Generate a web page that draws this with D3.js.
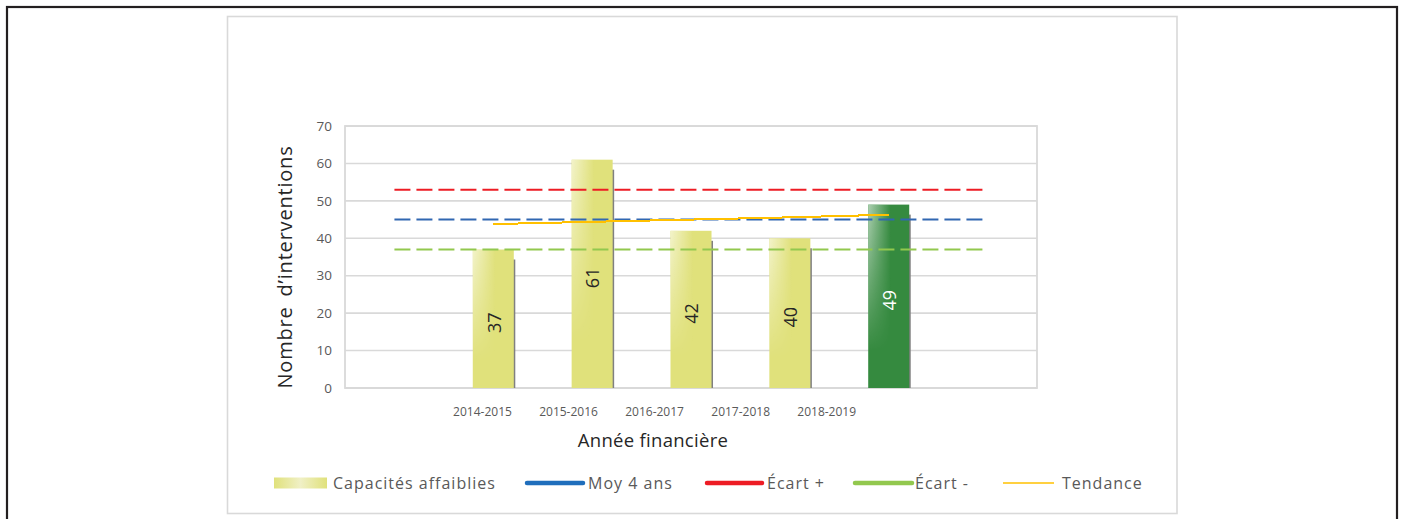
<!DOCTYPE html>
<html>
<head>
<meta charset="utf-8">
<script src="https://cdn.jsdelivr.net/npm/d3@7"></script>
<style>
  body { margin: 0; background: #fff; }
  text { font-family: "Open Sans", "Noto Sans", sans-serif; }
</style>
</head>
<body>
<script>
var width = 1402;
var height = 519;
var margin = {top: 126, left: 345, right: 365, bottom: 131};

// data
var years = ["2014-2015", "2015-2016", "2016-2017", "2017-2018", "2018-2019"];
var slots = [""].concat(years, [" "]);
var values = [37, 61, 42, 40, 49];
var trend = [43.8, 44.4, 45.0, 45.6, 46.3];
var refNames = ["Moy 4 ans", "Écart +", "Écart -"];
var refValues = [45, 53, 37];
var yTicks = [0, 10, 20, 30, 40, 50, 60, 70];
var legendLabels = ["Capacités affaiblies", "Moy 4 ans", "Écart +", "Écart -", "Tendance"];

var svg = d3.select("body")
  .append("svg")
  .attr("width", width)
  .attr("height", height);

var defs = svg.append("defs");

var vfade = defs.append("linearGradient").attr("id", "vfade")
  .attr("x1", 0).attr("y1", 0).attr("x2", 0).attr("y2", 1);
vfade.append("stop").attr("offset", "0%").attr("stop-color", "#fff");
vfade.append("stop").attr("offset", "80%").attr("stop-color", "#000");
defs.append("mask").attr("id", "fadeMask")
  .attr("maskContentUnits", "objectBoundingBox")
  .append("rect").attr("width", 1).attr("height", 1).attr("fill", "url(#vfade)");

var hlight = defs.append("linearGradient").attr("id", "hlight")
  .attr("x1", 0).attr("y1", 0).attr("x2", 1).attr("y2", 0);
hlight.append("stop").attr("offset", "0%").attr("stop-color", "#fff").attr("stop-opacity", 0.6);
hlight.append("stop").attr("offset", "55%").attr("stop-color", "#fff").attr("stop-opacity", 0);

var legGrad = defs.append("linearGradient").attr("id", "legGrad")
  .attr("x1", 0).attr("y1", 0).attr("x2", 1).attr("y2", 0);
legGrad.append("stop").attr("offset", "0%").attr("stop-color", "#E0E17B");
legGrad.append("stop").attr("offset", "50%").attr("stop-color", "#F0F0C6");
legGrad.append("stop").attr("offset", "100%").attr("stop-color", "#E0E17B");

// frames
svg.append("rect")
  .attr("x", 7).attr("y", 7).attr("width", 1390).attr("height", 530)
  .attr("fill", "none").attr("stroke", "#231F20").attr("stroke-width", 2.2);
svg.append("rect")
  .attr("x", 227.5).attr("y", 16.5).attr("width", 949.5).attr("height", 497)
  .attr("fill", "none").attr("stroke", "#D9D9D9").attr("stroke-width", 1.6);

var xScale = d3.scaleBand()
  .domain(slots)
  .range([margin.left, width - margin.right])
  .padding(0);

var xLabel = d3.scalePoint()
  .domain(years)
  .range([482.5, 826.7]);

var yScale = d3.scaleLinear()
  .domain([0, 70])
  .range([height - margin.bottom, margin.top]);

var barW = xScale.bandwidth() * 0.415;
function cx(d) { return xScale(d) + xScale.bandwidth() / 2; }

// gridlines
svg.append("g")
  .selectAll("line")
  .data(yTicks)
  .enter()
  .append("line")
    .attr("x1", margin.left).attr("x2", width - margin.right)
    .attr("y1", function(d) { return yScale(d); })
    .attr("y2", function(d) { return yScale(d); })
    .attr("stroke", "#D9D9D9").attr("stroke-width", 1.6);

svg.append("rect")
  .attr("x", margin.left).attr("y", yScale(70))
  .attr("width", width - margin.right - margin.left)
  .attr("height", yScale(0) - yScale(70))
  .attr("fill", "none").attr("stroke", "#D9D9D9").attr("stroke-width", 1.8);

// y tick labels
svg.append("g")
  .selectAll("text")
  .data(yTicks)
  .enter()
  .append("text")
    .attr("x", 332)
    .attr("y", function(d) { return yScale(d); })
    .attr("dy", "0.35em")
    .attr("text-anchor", "end")
    .attr("font-size", 13.5)
    .attr("fill", "#595959")
    .text(function(d) { return d; });

// bar shadows
svg.append("g")
  .selectAll("rect")
  .data(values)
  .enter()
  .append("rect")
    .attr("x", function(d, i) { return cx(years[i]) - barW / 2 + 1.5; })
    .attr("y", function(d) { return yScale(d) + 10; })
    .attr("width", barW)
    .attr("height", function(d) { return yScale(0) - yScale(d) - 10; })
    .attr("fill", "#808080");

// bars
var bars = svg.append("g")
  .selectAll("g")
  .data(values)
  .enter()
  .append("g");

bars.append("rect")
  .attr("x", function(d, i) { return cx(years[i]) - barW / 2; })
  .attr("y", function(d) { return yScale(d); })
  .attr("width", barW)
  .attr("height", function(d) { return yScale(0) - yScale(d); })
  .attr("fill", function(d, i) { return i === 4 ? "#358A3F" : "#E0E17B"; });

bars.append("rect")
  .attr("x", function(d, i) { return cx(years[i]) - barW / 2; })
  .attr("y", function(d) { return yScale(d); })
  .attr("width", barW)
  .attr("height", function(d) { return yScale(0) - yScale(d); })
  .attr("fill", "url(#hlight)")
  .attr("mask", "url(#fadeMask)");

bars.append("text")
  .attr("transform", function(d, i) {
    return "translate(" + (cx(years[i]) + 1) + "," + ((yScale(d) + yScale(0)) / 2 + 4) + ") rotate(-90)";
  })
  .attr("text-anchor", "middle")
  .attr("dy", "0.35em")
  .attr("font-size", 18)
  .attr("fill", function(d, i) { return i === 4 ? "#fff" : "#262626"; })
  .text(function(d) { return d; });

// reference lines
var refColors = ["#3167B1", "#ED1C24", "#92C84E"];
svg.append("g")
  .selectAll("line")
  .data(refValues)
  .enter()
  .append("line")
    .attr("x1", cx(slots[0]))
    .attr("x2", cx(slots[6]))
    .attr("y1", function(d) { return yScale(d); })
    .attr("y2", function(d) { return yScale(d); })
    .attr("stroke", function(d, i) { return refColors[i]; })
    .attr("stroke-width", 2)
    .attr("stroke-dasharray", "16,6");

// trend
var trendLine = d3.line()
  .x(function(d, i) { return cx(years[i]); })
  .y(function(d) { return yScale(d); });
svg.append("path")
  .datum(trend)
  .attr("d", trendLine)
  .attr("fill", "none")
  .attr("stroke", "#FFC000")
  .attr("stroke-width", 2)
  .attr("shape-rendering", "crispEdges");

// x labels
svg.append("g")
  .selectAll("text")
  .data(years)
  .enter()
  .append("text")
    .attr("x", function(d) { return xLabel(d); })
    .attr("y", 412)
    .attr("dy", "0.35em")
    .attr("text-anchor", "middle")
    .attr("font-size", 12)
    .attr("fill", "#595959")
    .text(function(d) { return d; });

// axis titles
svg.append("text")
  .attr("x", 653).attr("y", 441)
  .attr("dy", "0.35em")
  .attr("text-anchor", "middle")
  .attr("font-size", 18.5)
  .attr("letter-spacing", 0.3)
  .attr("fill", "#262626")
  .text("Année financière");

svg.append("text")
  .attr("transform", "translate(285,267) rotate(-90)")
  .attr("dy", "0.35em")
  .attr("text-anchor", "middle")
  .attr("font-size", 20)
  .attr("letter-spacing", 0.8)
  .attr("fill", "#262626")
  .attr("word-spacing", 4)
  .text("Nombre d’interventions");

// legend
var legY = 483;
var legX = [274, 527, 707, 855, 1003];
var legW = [53, 56, 55, 57, 51];
var legText = [333, 588, 767, 915, 1062];
var legColors = ["url(#legGrad)", "#1F6EBC", "#ED1C24", "#92C84E", "#FFC000"];
var leg = svg.append("g")
  .selectAll("g")
  .data(legendLabels)
  .enter()
  .append("g");

leg.filter(function(d, i) { return i === 0; })
  .append("rect")
    .attr("x", legX[0]).attr("y", legY - 5.5)
    .attr("width", legW[0]).attr("height", 11)
    .attr("fill", legColors[0]);

leg.filter(function(d, i) { return i > 0; })
  .append("line")
    .attr("x1", function(d) { var i = legendLabels.indexOf(d); return legX[i]; })
    .attr("x2", function(d) { var i = legendLabels.indexOf(d); return legX[i] + legW[i]; })
    .attr("y1", legY).attr("y2", legY)
    .attr("stroke", function(d) { return legColors[legendLabels.indexOf(d)]; })
    .attr("stroke-width", function(d) { return legendLabels.indexOf(d) === 4 ? 1.5 : 4.5; })
    .attr("stroke-linecap", function(d) { return legendLabels.indexOf(d) === 4 ? "butt" : "round"; });

leg.append("text")
  .attr("x", function(d, i) { return legText[i]; })
  .attr("y", legY)
  .attr("dy", "0.35em")
  .attr("font-size", 16)
  .attr("letter-spacing", 1)
  .attr("fill", "#595959")
  .text(function(d) { return d; });
</script>
</body>
</html>
